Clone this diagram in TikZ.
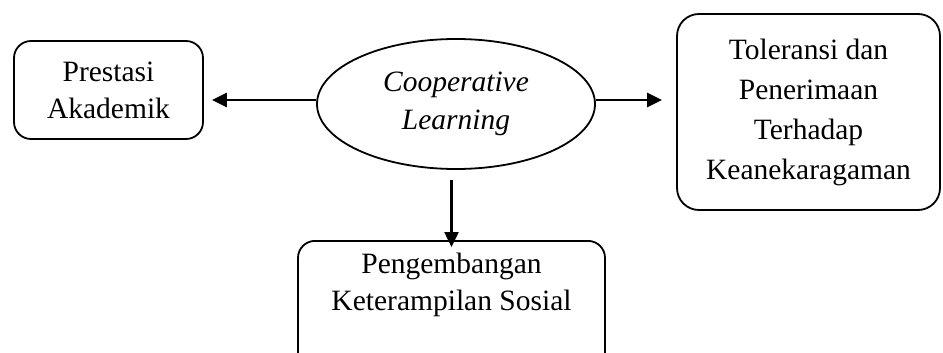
\documentclass[tikz,border=0pt]{standalone}
\usepackage{fontspec}
\setmainfont{Liberation Serif}
\usetikzlibrary{shapes.geometric,arrows.meta}
\begin{document}
\begin{tikzpicture}[x=1pt,y=-1pt,
 box/.style={draw, line width=1.8pt, rounded corners=17pt, inner sep=0pt},
 txt/.style={align=center, font=\fontsize{29.5}{37}\selectfont},
 arr/.style={line width=2.5pt, -{Triangle[length=15pt,width=14pt]}}]
\useasboundingbox (0,0) rectangle (943,353);
\clip (0,0) rectangle (943,353);
\node[box, txt, minimum width=189pt, minimum height=98pt] (prest) at (108.5,90) {Prestasi\\Akademik};
\node[draw, ellipse, line width=1.8pt, inner sep=0pt, minimum width=278pt, minimum height=130pt, txt, font=\fontsize{29.5}{38}\selectfont\itshape] (coop) at (456,104) {Cooperative\\Learning};
\node[box, txt, font=\fontsize{29.5}{40}\selectfont, minimum width=263pt, minimum height=196pt, rounded corners=22pt] (tol) at (808.5,112) {Toleransi dan\\Penerimaan\\Terhadap\\Keanekaragaman};
\node[box, anchor=north, minimum width=307pt, minimum height=140pt] (sosbox) at (451.5,240) {};
\node[txt] (sos) at (451.5,285) {Pengembangan\\Keterampilan Sosial};
\coordinate (lstart) at ([yshift=4pt]coop.west);
\coordinate (rstart) at ([yshift=4pt]coop.east);
\draw[arr, shorten >=8pt] (lstart) -- (prest.east |- lstart);
\draw[arr, shorten >=14pt] (rstart) -- (tol.west |- rstart);
\draw[arr, shorten <=10pt, shorten >=-7pt] (sosbox.north |- coop.south) -- (sosbox.north);
\end{tikzpicture}
\end{document}
